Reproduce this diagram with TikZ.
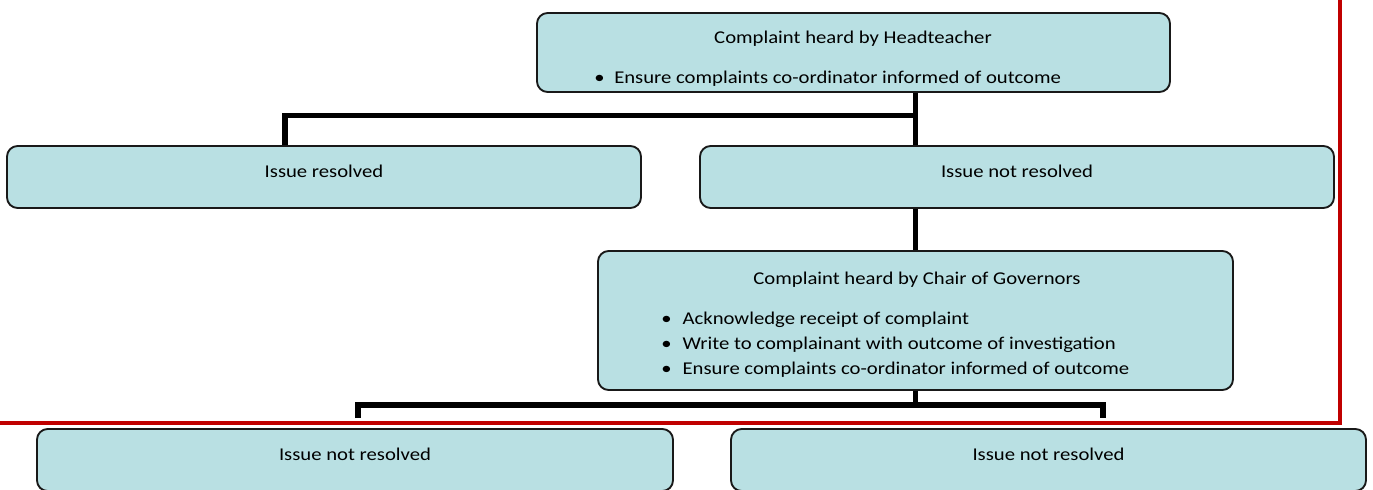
\documentclass[tikz,border=0pt]{standalone}
\usepackage{fontspec}
\setmainfont{Carlito}[FakeStretch=1.15]
\usetikzlibrary{calc}
\definecolor{boxfill}{RGB}{185,224,227}
\definecolor{framered}{RGB}{192,0,0}
\newcommand{\bulletitem}[2]{\makebox[#1][l]{\textbullet}#2}

\begin{document}
\begin{tikzpicture}[x=0.75pt, y=-0.75pt, font=\fontsize{13.5}{16}\selectfont,
  stage/.style={draw=black!90, fill=boxfill, rounded corners=8pt, line width=1.4pt, inner sep=0pt},
  boxsize/.style 2 args={minimum width=#1*0.75pt, minimum height=#2*0.75pt},
  oneline/.style={text height=7.5pt, text depth=7.5pt},
  boxtext/.style={inner sep=0pt},
  link/.style={line width=4pt},
  redframe/.style={draw=framered, line width=2.4pt}]
  \useasboundingbox (0,0) rectangle (1373,489);
  \clip (0,0) rectangle (1373,489);

  % first stage
  \node[stage, boxsize={633}{79}] (head) at (853.5,52.5) {};
  \node[boxtext, anchor=base] (headtitle) at (853,43) {Complaint heard by Headteacher};
  \node[boxtext, anchor=base west] (headitem) at (594,83)
    {\bulletitem{15pt}{Ensure complaints co-ordinator informed of outcome}};

  \node[stage, oneline, boxsize={634}{62}] (res) at (324,177) {Issue resolved};
  \node[stage, oneline, boxsize={634}{62}] (notres) at (1017,177) {Issue not resolved};

  % second stage
  \node[stage, boxsize={635}{139}] (chair) at (915.5,320.5) {};
  \node[boxtext, anchor=base] (chairtitle) at (917,284) {Complaint heard by Chair of Governors};
  \node[boxtext, anchor=base west] (chairitem1) at (661,324)
    {\bulletitem{16pt}{Acknowledge receipt of complaint}};
  \node[boxtext, anchor=base west] (chairitem2) at (661,349)
    {\bulletitem{16pt}{Write to complainant with outcome of investigation}};
  \node[boxtext, anchor=base west] (chairitem3) at (661,374)
    {\bulletitem{16pt}{Ensure complaints co-ordinator informed of outcome}};

  \node[stage, oneline, boxsize={636}{62}] (nextleft) at (355,460) {Issue not resolved};
  \node[stage, oneline, boxsize={635}{62}] (nextright) at (1048.5,460) {Issue not resolved};

  % connectors
  \coordinate (fork1) at (915.5,115.5);
  \coordinate (fork2) at (915.5,405);
  \coordinate (legleft) at (358,418);
  \coordinate (legright) at (1103,418);
  \draw[link] (head.south -| fork1) -- (fork1) -| ($(res.north)+(-39,0)$);
  \draw[link] (fork1) -- (notres.north -| fork1);
  \draw[link] (notres.south -| chair.north) -- (chair.north);
  \draw[link] (chair.south) -- (fork2);
  \draw[link] (legleft) |- (fork2) -| (legright);

  \draw[redframe] (0,423) -- (1340,423) -- (1340,0);
\end{tikzpicture}
\end{document}
